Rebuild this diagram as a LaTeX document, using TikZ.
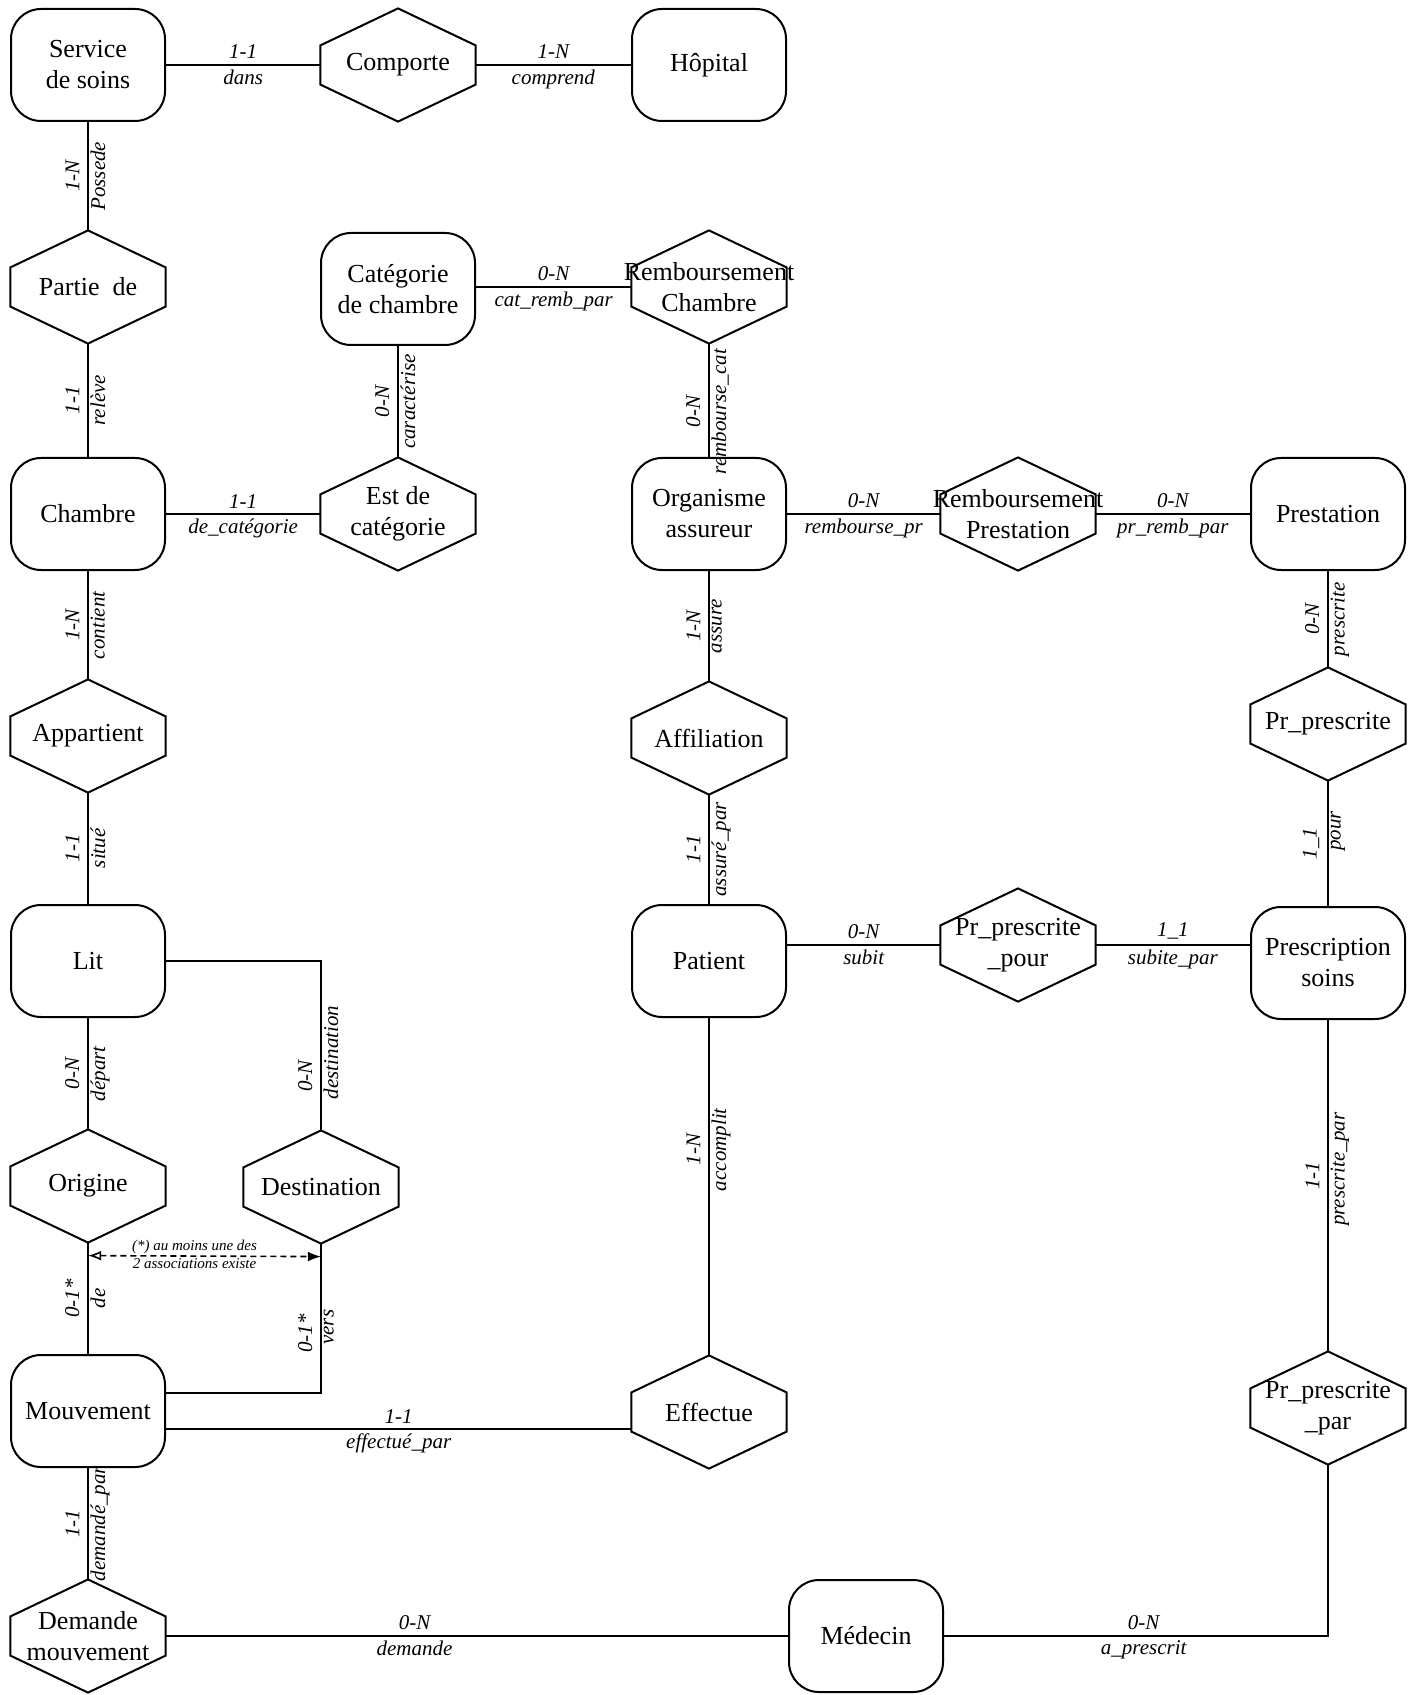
\documentclass[tikz,border=0pt]{standalone}
\usepackage{fontspec}
\setmainfont{Liberation Serif}
\usetikzlibrary{arrows.meta}

\tikzset{every picture/.style={line width=0.6pt}}
\tikzset{
    entite/.style={draw, line width=1pt, rounded corners=15pt, minimum width=77pt, minimum height=56pt,
        inner sep=0pt, align=center, font=\fontsize{13}{15.5}\selectfont},
    relation/.style={minimum width=77pt, minimum height=56pt, inner sep=0pt, align=center,
        font=\fontsize{13}{15.5}\selectfont},
    hexa/.style={line width=1pt, line join=miter},
    hlien/.style={line width=1pt},
    vlien/.style={line width=0.6pt},
    card/.style={font=\fontsize{10.5}{12}\itshape, inner sep=2.5pt, above},
    role/.style={font=\fontsize{10.5}{12}\itshape, inner sep=2pt, below},
    cardv/.style={font=\fontsize{10.5}{12}\itshape, inner sep=4pt, rotate=90, anchor=south},
    rolev/.style={font=\fontsize{10.5}{12}\itshape, inner sep=1pt, rotate=90, anchor=north},
    note/.style={font=\fontsize{7.5}{8}\itshape, inner sep=1pt}
}

\begin{document}
\begin{tikzpicture}[x=0.5pt, y=-0.5pt]
    \useasboundingbox (0,0) rectangle (1419,1695);

    % entites et associations
    \node[entite] (serv) at (88,65) {Service\\de soins};
    \node[relation] (comp) at (398,65) {Comporte};
    \node[entite] (hop) at (709,65) {Hôpital};

    \node[relation] (partie) at (88,287) {Partie~ de};
    \node[entite] (cat) at (398,289) {Catégorie\\de chambre};
    \node[relation] (rc) at (709,287) {\makebox[0pt]{Remboursement}\\Chambre};

    \node[entite] (chambre) at (88,514) {Chambre};
    \node[relation] (estde) at (398,514) {Est de\\catégorie};
    \node[entite] (orga) at (709,514) {Organisme\\assureur};
    \node[relation] (rp) at (1018,514) {\makebox[0pt]{Remboursement}\\Prestation};
    \node[entite] (presta) at (1328,514) {Prestation};

    \node[relation] (appart) at (88,736) {Appartient};
    \node[relation] (affil) at (709,738) {Affiliation};
    \node[relation] (prpres) at (1328,724) {Pr\_prescrite};

    \node[entite] (lit) at (88,961) {Lit};
    \node[entite] (patient) at (709,961) {Patient};
    \node[relation] (ppour) at (1018,945) {Pr\_prescrite\\\_pour};
    \node[entite] (prescr) at (1328,963) {Prescription\\soins};

    \node[relation] (orig) at (88,1186) {Origine};
    \node[relation] (dest) at (321,1187) {Destination};

    \node[entite] (mouv) at (88,1411) {Mouvement};
    \node[relation] (effect) at (709,1412) {Effectue};
    \node[relation] (pppar) at (1328,1408) {Pr\_prescrite\\\_par};

    \node[relation] (demande) at (88,1636) {Demande\\mouvement};
    \node[entite] (medecin) at (866,1636) {Médecin};

    % contour des associations
    \foreach \r in {comp,partie,rc,estde,rp,appart,affil,prpres,ppour,orig,dest,effect,pppar,demande}
        \draw[hexa] (\r.north) -- ([yshift=-18.5pt]\r.north east) -- ([yshift=18.5pt]\r.south east)
            -- (\r.south) -- ([yshift=18.5pt]\r.south west) -- ([yshift=-18.5pt]\r.north west) -- cycle;

    \coordinate (mvhaut) at ([yshift=9pt]mouv.east);
    \coordinate (mvbas) at ([yshift=-9pt]mouv.east);
    \coordinate (ng) at ([yshift=-6.5pt]orig.south);
    \coordinate (nd) at ([yshift=-6.5pt]dest.south);

    % liens
    \draw[hlien] (serv) -- (comp) node[card, midway] {1-1} node[role, midway] {dans};
    \draw[hlien] (comp) -- (hop) node[card, midway] {1-N} node[role, midway] {comprend};
    \draw[vlien] (serv) -- (partie) node[cardv, midway] {1-N} node[rolev, midway] {Possede};
    \draw[vlien] (partie) -- (chambre) node[cardv, midway] {1-1} node[rolev, midway] {relève};
    \draw[hlien] (cat.east |- rc.west) -- (rc) node[card, midway] {0-N} node[role, midway] {cat\_remb\_par};
    \draw[vlien] (cat) -- (estde) node[cardv, midway] {0-N} node[rolev, midway] {caractérise};
    \draw[vlien] (rc) -- (orga) node[cardv, pos=0.6] {0-N} node[rolev, pos=0.6] {rembourse\_cat};
    \draw[hlien] (chambre) -- (estde) node[card, midway] {1-1} node[role, midway] {de\_catégorie};
    \draw[hlien] (orga) -- (rp) node[card, midway] {0-N} node[role, midway] {rembourse\_pr};
    \draw[hlien] (rp) -- (presta) node[card, midway] {0-N} node[role, midway] {pr\_remb\_par};
    \draw[vlien] (chambre) -- (appart) node[cardv, midway] {1-N} node[rolev, midway] {contient};
    \draw[vlien] (orga) -- (affil) node[cardv, midway] {1-N} node[rolev, midway] {assure};
    \draw[vlien] (presta) -- (prpres) node[cardv, midway] {0-N} node[rolev, midway] {prescrite};
    \draw[vlien] (appart) -- (lit) node[cardv, midway] {1-1} node[rolev, midway] {situé};
    \draw[vlien] (affil) -- (patient) node[cardv, midway] {1-1} node[rolev, midway] {assuré\_par};
    \draw[vlien] (prpres) -- (prescr) node[cardv, midway] {1\_1} node[rolev, pos=0.4] {pour};
    \draw[hlien] (patient.east |- ppour.west) -- (ppour) node[card, midway] {0-N} node[role, midway] {subit};
    \draw[hlien] (ppour) -- (prescr.west |- ppour.east) node[card, midway] {1\_1} node[role, midway] {subite\_par};
    \draw[vlien] (lit) -- (orig) node[cardv, midway] {0-N} node[rolev, midway] {départ};
    \draw[vlien] (dest) |- (lit) node[cardv, pos=0.16] {0-N} node[rolev, pos=0.23] {destination};
    \draw[vlien] (orig) -- (mouv) node[cardv, midway] {0-1*} node[rolev, midway] {de};
    \draw[vlien] (dest) |- (mvhaut) node[cardv, pos=0.3] {0-1*} node[rolev, pos=0.28] {vers};
    \draw[vlien] (patient) -- (effect) node[cardv, pos=0.39] {1-N} node[rolev, pos=0.39] {accomplit};
    \draw[vlien] (prescr) -- (pppar) node[cardv, pos=0.47] {1-1} node[rolev, pos=0.45] {prescrite\_par};
    \draw[hlien] (mvbas) -- (mvbas -| effect.west) node[card, midway] {1-1} node[role, midway] {effectué\_par};
    \draw[vlien] (mouv) -- (demande) node[cardv, midway] {1-1} node[rolev, midway] {demandé\_par};
    \draw[hlien] (demande) -- (medecin) node[card, pos=0.4] {0-N} node[role, pos=0.4] {demande};
    \draw[hlien] (medecin) -| (pppar) node[card, pos=0.26] {0-N} node[role, pos=0.26] {a\_prescrit};

    % contrainte entre origine et destination
    \draw[line width=0.8pt, dash pattern=on 3pt off 2pt, {Latex[open]}-{Latex}] (ng) -- (nd)
        node[note, midway, above, xshift=-5pt] {(*) au moins une des}
        node[note, midway, below, xshift=-5pt] {2 associations existe};
\end{tikzpicture}
\end{document}
